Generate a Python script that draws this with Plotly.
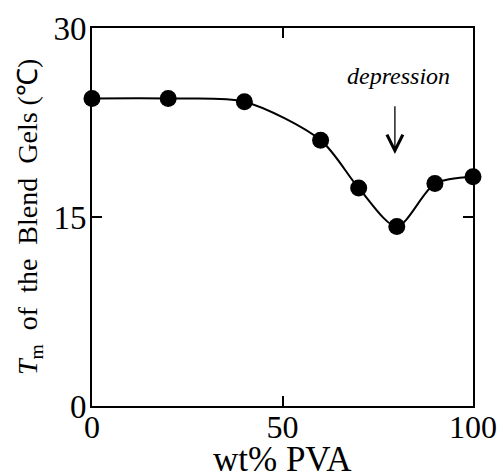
import plotly.graph_objects as go

pva_wt = [0, 20, 40, 60, 70, 80, 90, 100]
tm_celsius = [24.4, 24.4, 24.15, 21.1, 17.3, 14.25, 17.65, 18.2]
x_ticks = [0, 50, 100]
y_ticks = [0, 15, 30]

FONT = "Liberation Serif, Times New Roman, serif"
SP = "\u00a0"

fig = go.Figure()
fig.add_trace(go.Scatter(
    x=pva_wt, y=tm_celsius, mode="lines",
    line=dict(color="black", width=2, shape="spline", smoothing=0.8),
    hoverinfo="skip", showlegend=False, cliponaxis=False,
))
fig.add_trace(go.Scatter(
    x=pva_wt, y=tm_celsius, mode="markers",
    marker=dict(color="black", size=17),
    showlegend=False, cliponaxis=False,
))

fig.add_annotation(
    x=79.5, y=20.0, xref="x", yref="y",
    ax=79.5, ay=23.9, axref="x", ayref="y",
    showarrow=True, arrowhead=5, arrowsize=2.4, arrowwidth=1.3,
    arrowcolor="black", text="",
)
fig.add_annotation(
    x=80.5, y=26.2, xref="x", yref="y",
    text="<i>depression</i>", showarrow=False,
    font=dict(family=FONT, size=24, color="black"),
)

# axis titles as annotations
fig.add_annotation(
    x=0.5, y=0, xref="paper", yref="paper", xanchor="center", yanchor="top",
    yshift=-32, showarrow=False, text="wt%" + SP + "PVA",
    font=dict(family=FONT, size=35, color="black"),
)
ytitle = f"<i>T</i><sub>m</sub>{SP}{SP}of{SP}{SP}the{SP}{SP}Blend{SP}{SP}Gels{SP}(℃)"
fig.add_annotation(
    x=0, y=0.5, xref="paper", yref="paper", xanchor="center", yanchor="middle",
    xshift=-63, showarrow=False, text=ytitle, textangle=-90,
    font=dict(family=FONT, size=28, color="black"),
)

axis_common = dict(
    showline=True, linecolor="black", linewidth=2, mirror="ticks",
    ticks="inside", ticklen=10, tickwidth=1.5, tickcolor="black",
    showgrid=False, zeroline=False, automargin=False,
)

fig.update_layout(
    width=504, height=471,
    margin=dict(l=92, r=31, t=28, b=65),
    paper_bgcolor="white", plot_bgcolor="white",
    xaxis=dict(range=[0, 100], tickvals=x_ticks, ticklabelstandoff=-8,
               tickfont=dict(family=FONT, size=32, color="black"), **axis_common),
    yaxis=dict(range=[0, 30], tickvals=y_ticks, ticklabelstandoff=-3,
               tickfont=dict(family=FONT, size=33, color="black"), **axis_common),
)

fig.write_html("out.html")
